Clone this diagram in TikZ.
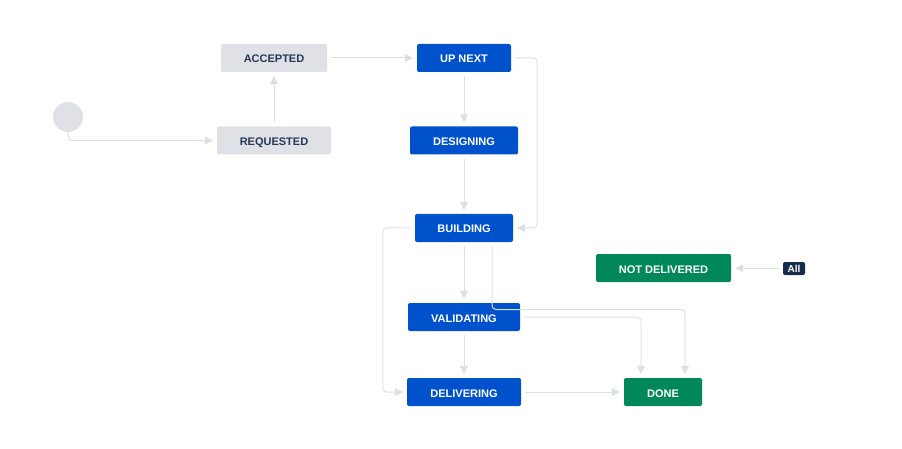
\documentclass[tikz,border=0pt]{standalone}
\usepackage{fontspec}
\setmainfont{Liberation Sans}
\usetikzlibrary{arrows.meta}
\definecolor{todogray}{HTML}{DFE1E6}
\definecolor{todotext}{HTML}{253858}
\definecolor{progblue}{HTML}{0052CC}
\definecolor{donegreen}{HTML}{00875A}
\definecolor{allnavy}{HTML}{172B4D}
\definecolor{linegray}{HTML}{DCDFE4}
\tikzset{
  status/.style={rounded corners=2pt, minimum height=28pt, inner sep=0pt,
    text height=10pt, text depth=0pt,
    font=\fontsize{11}{13}\selectfont\bfseries},
  todo/.style={status, fill=todogray, text=todotext},
  inprog/.style={status, fill=progblue, text=white},
  finished/.style={status, fill=donegreen, text=white},
  trans/.style={draw=linegray, line width=1pt, rounded corners=4pt,
    -{Triangle[length=8pt,width=8pt]}, shorten >=4pt, shorten <=4pt}
}
\begin{document}
\begin{tikzpicture}[x=1pt, y=-1pt]
  \useasboundingbox (0,0) rectangle (902,449);

  % Marking start point by circle
  \node [circle, fill=todogray, minimum size=30pt, inner sep=0pt] (start) at (68,117) {};

  % Drawing states
  \node [todo, minimum width=106pt] (acc) at (274,58) {ACCEPTED};
  \node [todo, minimum width=114pt] (req) at (274,140.5) {REQUESTED};
  \node [inprog, minimum width=94pt] (up) at (464,58) {UP NEXT};
  \node [inprog, minimum width=108pt] (des) at (464,140.5) {DESIGNING};
  \node [inprog, minimum width=98pt] (bld) at (464,228) {BUILDING};
  \node [inprog, minimum width=112pt] (val) at (464,317) {VALIDATING};
  \node [inprog, minimum width=114pt] (dlv) at (464,392) {DELIVERING};
  \node [finished, minimum width=135pt] (notd) at (663.5,268) {NOT DELIVERED};
  \node [finished, minimum width=78pt] (done) at (663,392) {DONE};

  % Marking global transition
  \node [rounded corners=2pt, fill=allnavy, text=white, minimum width=22pt,
    minimum height=13pt, inner sep=0pt, text height=8pt, text depth=0pt,
    font=\fontsize{10}{12}\selectfont\bfseries]
    (all) at (794,268.5) {All};

  % Drawing transitions
  \draw [trans, shorten <=0pt] (start.south) |- (req.west);
  \draw [trans] (req) -- (acc);
  \draw [trans] (acc) -- (up);
  \draw [trans] (up) -- (des);
  \draw [trans] (des) -- (bld);
  \draw [trans] (up.east) -- ([xshift=26pt]up.east) |- (bld.east);
  \draw [trans] (bld.west) -- ([xshift=-32pt]bld.west) |- (dlv.west);
  \draw [trans] (bld) -- (val);
  \draw [trans] (val) -- (dlv);
  \draw [trans] (dlv) -- (done);
  \draw [trans] (val.east) -| ([xshift=-22pt]done.north);
  \coordinate (bdturn) at (685,309.5);
  \draw [trans] ([xshift=28pt]bld.south) |- (bdturn) -- ([xshift=22pt]done.north);
  \draw [trans] (all) -- (notd);
\end{tikzpicture}
\end{document}
